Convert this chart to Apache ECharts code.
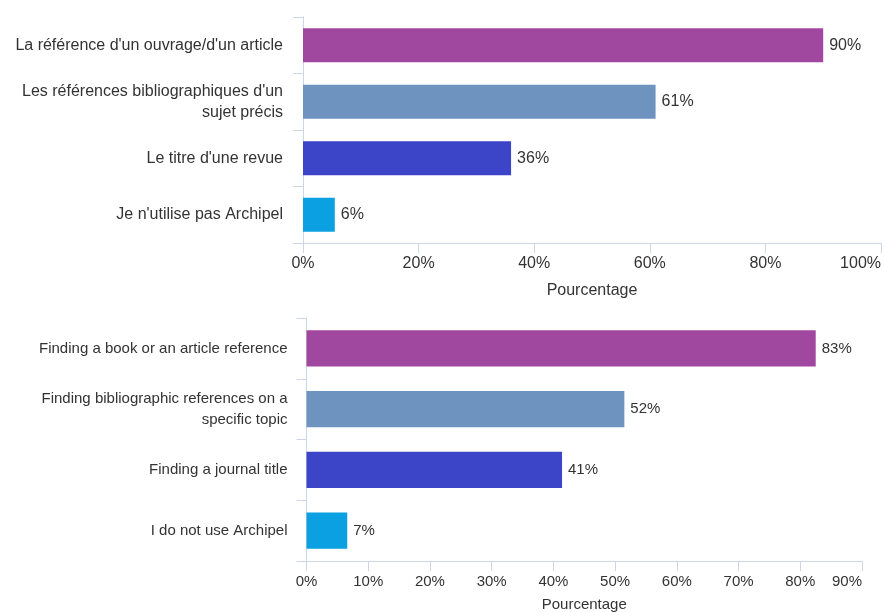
<!DOCTYPE html>
<html>
<head>
<meta charset="utf-8">
<script src="https://cdn.jsdelivr.net/npm/echarts@6/dist/echarts.min.js"></script>
<style>
html,body{margin:0;padding:0;background:#fff;}
#c{width:884px;height:612px;}
</style>
</head>
<body>
<div id="c"></div>
<script>
const categoriesFr = [
  "La référence d'un ouvrage/d'un article",
  "Les références bibliographiques d'un sujet précis",
  "Le titre d'une revue",
  "Je n'utilise pas Archipel"
];
const valuesFr = [90, 61, 36, 5.5];

const categoriesEn = [
  "Finding a book or an article reference",
  "Finding bibliographic references on a specific topic",
  "Finding a journal title",
  "I do not use Archipel"
];
const valuesEn = [82.5, 51.5, 41.4, 6.6];

const barColors = ['#a0479f', '#6f93bf', '#3c45c8', '#0aa0e2'];
const axisName = 'Pourcentage';

const FONT = '"Liberation Sans", Arial, sans-serif';
const TXT = '#333333';
const LINE = '#ccd6eb';

const measureCtx = document.createElement('canvas').getContext('2d');
function wrap(text, size, maxW) {
  measureCtx.font = size + 'px ' + FONT;
  const words = text.split(' ');
  const lines = [];
  let cur = '';
  for (const w of words) {
    const t = cur ? cur + ' ' + w : w;
    if (cur && measureCtx.measureText(t).width > maxW) {
      lines.push(cur);
      cur = w;
    } else {
      cur = t;
    }
  }
  if (cur) lines.push(cur);
  return lines.join('\n');
}

function withColors(vals) {
  return vals.map((v, i) => ({ value: v, itemStyle: { color: barColors[i] } }));
}

function xAxis(gridIndex, max, interval, fs, margin, gap) {
  return {
    type: 'value', gridIndex, min: 0, max, interval,
    name: axisName, nameLocation: 'middle', nameGap: gap,
    nameTextStyle: { color: TXT, fontSize: fs, fontFamily: FONT },
    axisLine: { show: true, lineStyle: { color: LINE, width: 1 } },
    axisTick: { show: true, length: 10, lineStyle: { color: LINE } },
    splitLine: { show: false },
    axisLabel: {
      color: TXT, fontSize: fs, fontFamily: FONT, margin,
      formatter: v => v + '%', alignMaxLabel: 'right'
    }
  };
}

function yAxis(gridIndex, cats, fs, lh, margin) {
  return {
    type: 'category', gridIndex, data: cats, inverse: true,
    axisLine: { show: true, lineStyle: { color: LINE, width: 1 } },
    axisTick: { show: true, length: 10, alignWithLabel: false, lineStyle: { color: LINE } },
    splitLine: { show: false },
    axisLabel: {
      color: TXT, fontSize: fs, fontFamily: FONT, margin,
      lineHeight: lh, align: 'right',
      formatter: v => wrap(v, fs, 290)
    }
  };
}

function series(idx, vals, fs) {
  return {
    type: 'bar', xAxisIndex: idx, yAxisIndex: idx,
    data: withColors(vals), barCategoryGap: '40%',
    label: {
      show: true, position: 'right', distance: 6,
      color: TXT, fontSize: fs, fontFamily: FONT,
      formatter: p => Math.round(p.value) + '%'
    },
    animation: false
  };
}

const chart = echarts.init(document.getElementById('c'), null, { renderer: 'canvas' });
chart.setOption({
  animation: false,
  backgroundColor: '#ffffff',
  textStyle: { fontFamily: FONT },
  grid: [
    { left: 303, right: 3, top: 17, height: 226, outerBoundsMode: 'none', containLabel: false },
    { left: 306.5, right: 22, top: 318, height: 243, outerBoundsMode: 'none', containLabel: false }
  ],
  xAxis: [xAxis(0, 100, 20, 16, 13, 40), xAxis(1, 90, 10, 15, 13, 36)],
  yAxis: [yAxis(0, categoriesFr, 16, 21, 20), yAxis(1, categoriesEn, 15, 21, 19)],
  series: [series(0, valuesFr, 16), series(1, valuesEn, 15)]
});
</script>
</body>
</html>
